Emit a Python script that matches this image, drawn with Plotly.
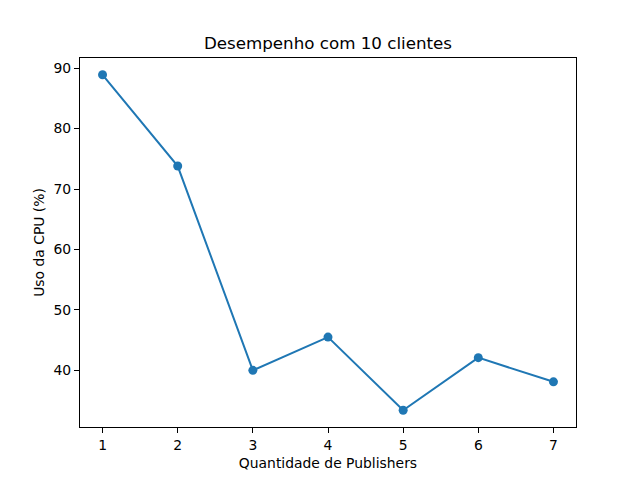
import plotly.graph_objects as go

publishers = [1, 2, 3, 4, 5, 6, 7]
cpu_usage = [88.9, 73.8, 40.0, 45.5, 33.4, 42.1, 38.1]

fig = go.Figure()
fig.add_trace(go.Scatter(
    x=publishers, y=cpu_usage, mode="lines+markers",
    line=dict(color="#1f77b4", width=2),
    marker=dict(color="#1f77b4", size=9),
    showlegend=False,
))

axis_common = dict(
    showline=True, linecolor="black", linewidth=1, mirror=True,
    ticks="outside", ticklen=5, tickwidth=1, tickcolor="black",
    showgrid=False, zeroline=False,
    tickfont=dict(family="DejaVu Sans", size=13.9, color="black"),
)

fig.update_layout(
    width=640, height=480,
    margin=dict(l=72, r=72, t=50, b=61),
    paper_bgcolor="white", plot_bgcolor="white",
    font=dict(family="DejaVu Sans", color="black"),
    title=dict(text="Desempenho com 10 clientes", x=0.5, xref="paper",
               xanchor="center", y=1 - 35 / 480, yanchor="middle",
               font=dict(family="DejaVu Sans", size=16.7, color="black")),
    xaxis=dict(axis_common, range=[0.7, 7.3], tickvals=publishers,
               title=dict(text="Quantidade de Publishers", standoff=6,
                          font=dict(family="DejaVu Sans", size=13.9))),
    yaxis=dict(axis_common, range=[30.625, 91.675], tickvals=[40, 50, 60, 70, 80, 90],
               title=dict(text="Uso da CPU (%)", standoff=5,
                          font=dict(family="DejaVu Sans", size=13.9))),
)

fig.write_html("out.html")
